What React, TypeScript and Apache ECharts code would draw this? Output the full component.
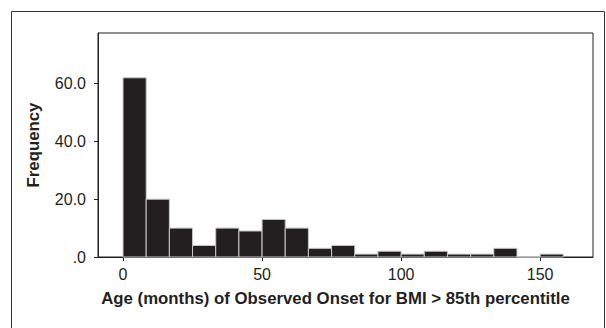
import React, { useEffect, useRef } from "react";
import * as echarts from "echarts";

// Histogram counts per bin (bins of 100/12 months starting at 0)
const binCounts = [62, 20, 10, 4, 10, 9, 13, 10, 3, 4, 1, 2, 1, 2, 1, 1, 3, 0, 1];
const binWidth = 100 / 12;
const xTicks = [0, 50, 100, 150];
const yTicks = [0, 20, 40, 60];
const xTitle = "Age (months) of Observed Onset for BMI > 85th percentitle";
const yTitle = "Frequency";

const FONT = "'Liberation Sans', Arial, Helvetica, sans-serif";
const INK = "#231f20";

export default function App() {
  const ref = useRef<HTMLDivElement>(null);
  useEffect(() => {
    if (!ref.current) return;
    const chart = echarts.init(ref.current, undefined, { renderer: "svg" });
    const data = binCounts.map((c, i) => [i * binWidth, (i + 1) * binWidth, c]);
    chart.setOption({
      animation: false,
      backgroundColor: "#ffffff",
      textStyle: { fontFamily: FONT },
      graphic: [
        {
          type: "rect",
          shape: { x: 11.5, y: 11.5, width: 593, height: 330 },
          style: { fill: "none", stroke: "#333", lineWidth: 1 },
          silent: true,
        },
      ],
      grid: {
        left: 98,
        top: 33,
        right: 13,
        bottom: 71,
        show: true,
        borderColor: INK,
        borderWidth: 1,
      },
      xAxis: {
        type: "value",
        min: -9,
        max: 169,
        name: xTitle,
        nameLocation: "middle",
        nameGap: 33,
        nameTextStyle: {
          fontFamily: FONT,
          fontSize: 16.8,
          fontWeight: "bold",
          color: INK,
          padding: [0, 20, 0, 0],
        },
        axisLine: { show: true, onZero: false, lineStyle: { color: INK, width: 1 } },
        axisTick: { show: true, length: 4, customValues: xTicks, lineStyle: { color: INK } },
        axisLabel: {
          customValues: xTicks,
          margin: 9,
          fontFamily: FONT,
          fontSize: 16,
          color: INK,
        },
        splitLine: { show: false },
      },
      yAxis: {
        type: "value",
        min: 0,
        max: 77.5,
        name: yTitle,
        nameLocation: "middle",
        nameGap: 56,
        nameTextStyle: { fontFamily: FONT, fontSize: 16.8, fontWeight: "bold", color: INK },
        axisLine: { show: true, onZero: false, lineStyle: { color: INK, width: 1 } },
        axisTick: { show: true, length: 4, customValues: yTicks, lineStyle: { color: INK } },
        axisLabel: {
          customValues: yTicks,
          margin: 12,
          fontFamily: FONT,
          fontSize: 16,
          color: INK,
          formatter: (v: number) => (v === 0 ? ".0" : v.toFixed(1)),
        },
        splitLine: { show: false },
      },
      series: [
        {
          type: "custom",
          data,
          encode: { x: [0, 1], y: 2 },
          renderItem: (params: any, api: any) => {
            const start = api.value(0);
            const end = api.value(1);
            const count = api.value(2);
            const p0 = api.coord([start, count]);
            const p1 = api.coord([end, 0]);
            return {
              type: "rect",
              shape: { x: p0[0], y: p0[1], width: p1[0] - p0[0], height: p1[1] - p0[1] },
              style: { fill: INK, stroke: "#c8c8c8", lineWidth: 1 },
            };
          },
        },
      ],
    });
    return () => chart.dispose();
  }, []);
  return (
    <div
      ref={ref}
      style={{ position: "fixed", left: 0, top: 0, width: 606, height: 328, background: "#fff" }}
    />
  );
}
